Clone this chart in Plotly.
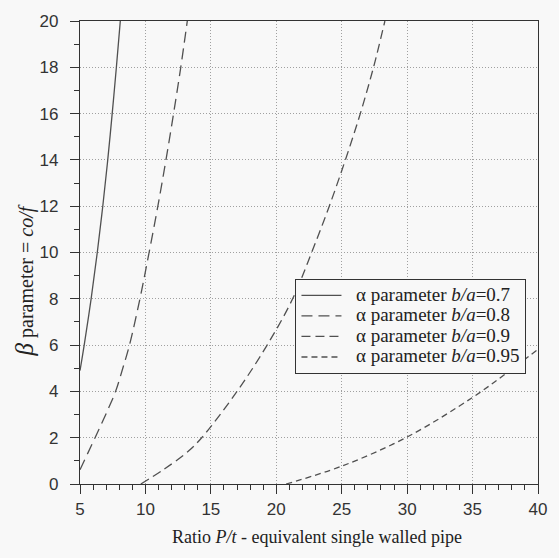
import plotly.graph_objects as go

# Beta parameter (co/f) against P/t ratio for four b/a ratios
ratio_07 = [5.0, 5.32, 5.85, 6.32, 6.74, 7.12, 7.46, 7.78, 8.08]
beta_07 = [4.9, 6.0, 8.0, 10.0, 12.0, 14.0, 16.0, 18.0, 20.0]

ratio_08 = [5.0, 6.15, 7.2, 7.72, 8.27, 8.78, 9.58, 10.28, 10.95, 11.57, 12.15, 12.7, 13.2]
beta_08 = [0.62, 2.0, 3.3, 4.0, 5.0, 6.0, 8.0, 10.0, 12.0, 14.0, 16.0, 18.0, 20.0]

ratio_09 = [9.65, 11.37, 13.25, 14.3, 17.0, 19.3, 21.25, 22.7, 24.05, 25.28, 26.42, 27.43, 28.3]
beta_09 = [0.0, 0.62, 1.4, 2.0, 4.0, 6.0, 8.0, 10.0, 12.0, 14.0, 16.0, 18.0, 20.0]

ratio_095 = [20.75, 25.0, 30.0, 35.0, 37.5, 40.0]
beta_095 = [0.0, 0.77, 2.03, 3.74, 4.75, 5.82]

series = [
    ("0.7", ratio_07, beta_07, "solid"),
    ("0.8", ratio_08, beta_08, "11px,6px"),
    ("0.9", ratio_09, beta_09, "9px,5px"),
    ("0.95", ratio_095, beta_095, "6px,4px"),
]

x_ticks = [5, 10, 15, 20, 25, 30, 35, 40]
y_ticks = [0, 2, 4, 6, 8, 10, 12, 14, 16, 18, 20]

line_color = "#505050"
serif = "Liberation Serif, Times New Roman, serif"
sans = "Liberation Sans, Arial, sans-serif"

fig = go.Figure()
for label, xs, ys, dash in series:
    fig.add_trace(go.Scatter(
        x=xs, y=ys, mode="lines",
        line=dict(color=line_color, width=1.3, dash=dash, shape="spline", smoothing=1.0),
        name=f"<span style='font-size:19px'>\u2002α parameter <i>b/a</i>={label}</span>",
    ))

axis_common = dict(
    showline=True, linecolor="#333333", linewidth=1.2, mirror=True,
    ticks="outside", ticklen=9, tickwidth=1, tickcolor="#333333",
    showgrid=True, gridcolor="#a0a0a0", griddash="1px,2px", gridwidth=1,
    zeroline=False,
    tickfont=dict(family=sans, size=17, color="#333333"),
    minor=dict(ticks="outside", ticklen=5, tickcolor="#333333", dtick=1, showgrid=False),
)

fig.update_xaxes(range=[5, 40], tickvals=x_ticks, **axis_common)
fig.update_yaxes(range=[0, 20], tickvals=y_ticks, ticklabelstandoff=8, **axis_common)

fig.update_layout(
    width=559, height=558,
    margin=dict(l=80, r=16, t=17, b=74),
    paper_bgcolor="#f8f8f8", plot_bgcolor="#f8f8f8",
    showlegend=True,
    legend=dict(
        x=0.47, y=0.443, xanchor="left", yanchor="top",
        bgcolor="#f8f8f8", bordercolor="#333333", borderwidth=1.2,
        font=dict(family=serif, size=13.5, color="#222222"),
        tracegroupgap=0, itemwidth=40,
    ),
    annotations=[
        dict(text="Ratio <i>P/t</i> - equivalent single walled pipe",
             xref="paper", yref="paper", x=0.518, y=-0.115,
             xanchor="center", yanchor="middle", showarrow=False,
             font=dict(family=serif, size=18, color="#222222")),
        dict(text="<span style='font-size:25px'><i>β</i></span> parameter = <i>co/f</i>",
             xref="paper", yref="paper", x=-0.122, y=0.44,
             xanchor="center", yanchor="middle", textangle=-90, showarrow=False,
             font=dict(family=serif, size=20, color="#222222")),
    ],
)

fig.write_html("out.html")
